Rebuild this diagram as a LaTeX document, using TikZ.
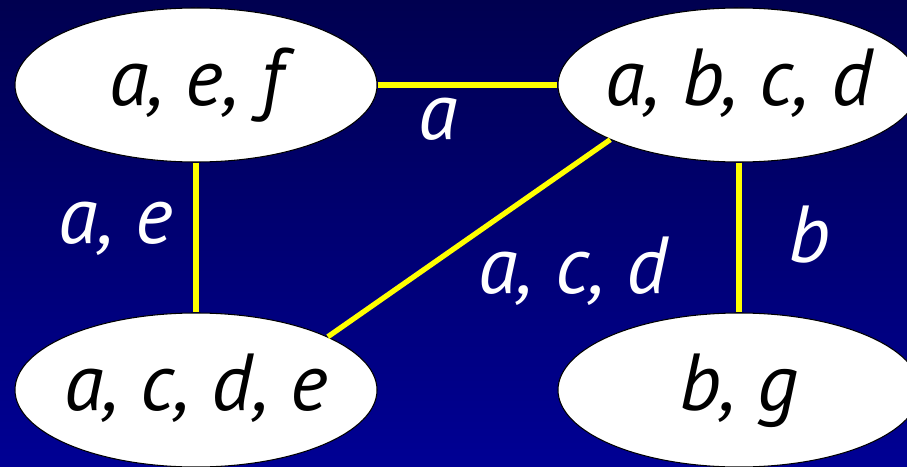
\documentclass[tikz,border=0pt]{standalone}
\usepackage{fontspec}
\setmainfont{PT Sans}
\usetikzlibrary{shapes.geometric}

\definecolor{bgtop}{RGB}{0,0,80}
\definecolor{bgbottom}{RGB}{0,0,148}
\definecolor{edgeyellow}{RGB}{255,255,0}

% keeps the ellipse at its minimum size
\newcommand{\settext}[1]{\makebox[0pt]{#1}}

\begin{document}
\begin{tikzpicture}[
    setnode/.style={ellipse,draw=black,line width=0.6pt,fill=white,
        minimum width=7.24cm,minimum height=3.08cm,inner sep=0pt,
        text height=23pt,text depth=0pt,
        font=\fontsize{46}{52}\selectfont\itshape},
    sep/.style={draw=edgeyellow,line width=3pt},
    seplabel/.style={anchor=base,text=white,
        font=\fontsize{46}{52}\selectfont\itshape}
]

% Background
\shade[top color=bgtop,bottom color=bgbottom]
    (0,0) rectangle (18.14,9.32);
\useasboundingbox (0,0) rectangle (18.14,9.32);

% Cliques
\node[setnode] (aef)  at (3.92,7.62)  {\settext{a, e, f}};
\node[setnode] (abcd) at (14.78,7.62) {\settext{a, b, c, d}};
\node[setnode] (acde) at (3.92,1.52)  {\settext{a, c, d, e}};
\node[setnode] (bg)   at (14.78,1.52) {\settext{b, g}};

% Separators
\draw[sep] (aef.east) -- (abcd.west);
\draw[sep] (aef.south) -- (acde.north);
\draw[sep] (abcd.203) -- (acde.22);
\draw[sep] (abcd.south) -- (bg.north);

% Separator labels
\node[seplabel] (lab1) at (8.76,6.52)  {a};
\node[seplabel] (lab2) at (2.32,4.46)  {a, e};
\node[seplabel] (lab3) at (11.46,3.46) {a, c, d};
\node[seplabel] (lab4) at (16.20,4.08) {b};

\end{tikzpicture}
\end{document}
